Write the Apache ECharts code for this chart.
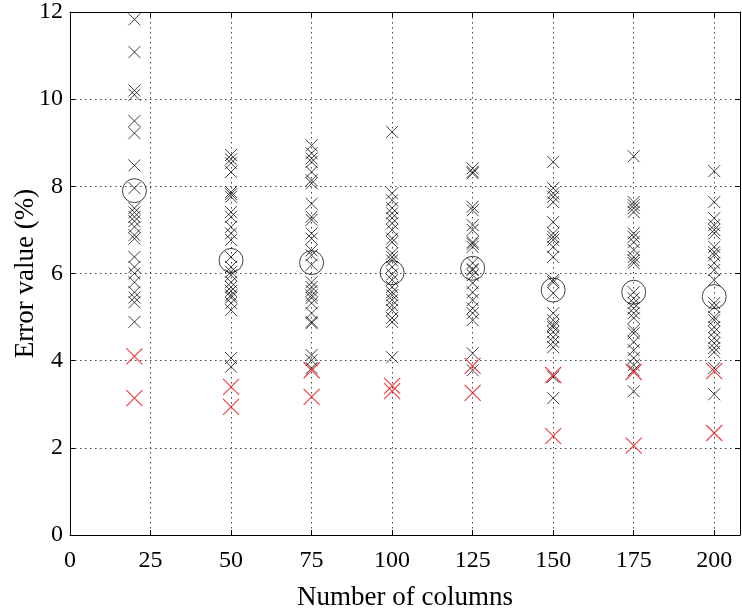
<!DOCTYPE html>
<html><head><meta charset="utf-8">
<script src="https://cdn.jsdelivr.net/npm/echarts@6/dist/echarts.min.js"></script>
<style>html,body{margin:0;padding:0;background:#fff}#c{width:742px;height:611px}</style>
</head><body><div id="c"></div>
<script>
const columns = [20, 50, 75, 100, 125, 150, 175, 200];
const xTicks = [0, 25, 50, 75, 100, 125, 150, 175, 200];
const yTicks = [0, 2, 4, 6, 8, 10, 12];
const black20 = [11.83, 11.08, 10.2, 10.1, 9.5, 9.22, 8.48, 7.96, 7.5, 7.4, 7.3, 7.2, 7.07, 6.88, 6.8, 6.38, 6.15, 6.0, 5.8, 5.57, 5.45, 5.34, 4.89];
const black50 = [8.72, 8.62, 8.53, 8.33, 7.87, 7.82, 7.76, 7.41, 7.3, 7.07, 6.92, 6.77, 6.38, 6.15, 6.04, 5.96, 5.8, 5.69, 5.6, 5.5, 5.45, 5.32, 5.16, 4.06, 3.86];
const black75 = [8.94, 8.76, 8.64, 8.56, 8.33, 8.14, 8.07, 7.6, 7.3, 7.23, 6.92, 6.8, 6.53, 6.42, 6.2, 5.8, 5.69, 5.6, 5.5, 5.44, 5.32, 5.09, 4.89, 4.86, 4.13, 4.01, 3.83];
const black100 = [9.25, 7.84, 7.68, 7.5, 7.38, 7.27, 7.15, 7.0, 6.8, 6.72, 6.46, 6.38, 6.3, 6.15, 5.98, 5.85, 5.69, 5.57, 5.5, 5.39, 5.27, 5.16, 4.98, 4.89, 4.08];
const black125 = [8.41, 8.33, 8.3, 7.53, 7.45, 7.11, 7.0, 6.72, 6.68, 6.61, 6.24, 6.1, 6.08, 5.96, 5.78, 5.57, 5.39, 5.2, 5.09, 4.93, 4.17, 3.78];
const black150 = [8.56, 7.96, 7.84, 7.76, 7.64, 7.18, 6.92, 6.84, 6.77, 6.61, 6.38, 5.85, 5.8, 5.55, 5.09, 4.93, 4.82, 4.77, 4.66, 4.54, 4.43, 4.31, 3.63, 3.14];
const black175 = [8.69, 7.64, 7.57, 7.5, 7.41, 6.92, 6.84, 6.72, 6.54, 6.38, 6.3, 6.24, 5.57, 5.43, 5.32, 5.2, 5.09, 4.98, 4.7, 4.63, 4.43, 4.24, 4.06, 3.9, 3.78, 3.3];
const black200 = [8.35, 7.64, 7.27, 7.11, 7.0, 6.92, 6.61, 6.49, 6.42, 6.24, 6.08, 5.85, 5.32, 5.23, 5.0, 4.93, 4.77, 4.66, 4.52, 4.4, 4.29, 4.2, 3.83, 3.23];
const red20 = [4.1, 3.14];
const red50 = [3.4, 2.94];
const red75 = [3.78, 3.17];
const red100 = [3.42, 3.3];
const red125 = [3.88, 3.26];
const red150 = [3.67, 2.27];
const red175 = [3.74, 2.05];
const red200 = [3.76, 2.34];
const means = [7.9, 6.3, 6.25, 6.02, 6.12, 5.62, 5.57, 5.47];

const blackCols = [black20, black50, black75, black100, black125, black150, black175, black200];
const redCols = [red20, red50, red75, red100, red125, red150, red175, red200];
const blackData = [], redData = [];
columns.forEach((c, i) => {
  blackCols[i].forEach(v => blackData.push([c, v]));
  redCols[i].forEach(v => redData.push([c, v]));
});
const meanData = columns.map((c, i) => [c, means[i]]);

const cross = 'path://M0,0L10,10M10,0L0,10';
const font = '"Liberation Serif", "DejaVu Serif", serif';
const grid = {left: 70, right: 2, top: 12, bottom: 76, containLabel: false, outerBoundsMode: 'none'};
const split = {show: true, lineStyle: {color: '#444', type: [1.5, 3.5], width: 1}};
const axLine = {show: true, onZero: false, lineStyle: {color: '#000', width: 1}};
const tick = {show: true, inside: true, length: 5, lineStyle: {color: '#000'}};

const chart = echarts.init(document.getElementById('c'), null, {renderer: 'canvas'});
chart.setOption({
  animation: false,
  backgroundColor: '#fff',
  grid: grid,
  xAxis: [{
    type: 'value', min: 0, max: 208, interval: 25, position: 'bottom',
    axisLine: axLine, axisTick: tick, splitLine: split,
    axisLabel: {show: true, showMaxLabel: false, color: '#000', fontFamily: font, fontSize: 24, margin: 14,
      formatter: v => xTicks.includes(v) ? String(v) : ''},
    name: 'Number of columns', nameLocation: 'middle', nameGap: 49, nameMoveOverlap: false,
    nameTextStyle: {color: '#000', fontFamily: font, fontSize: 27}
  }, {
    type: 'value', min: 0, max: 208, interval: 25, position: 'top',
    axisLine: axLine, axisTick: tick, splitLine: {show: false}, axisLabel: {show: false}
  }],
  yAxis: [{
    type: 'value', min: 0, max: 12, interval: 2, position: 'left',
    axisLine: axLine, axisTick: tick, splitLine: split,
    axisLabel: {color: '#000', fontFamily: font, fontSize: 24, margin: 7,
      formatter: v => yTicks.includes(v) ? String(v) : ''},
    name: 'Error value (%)', nameLocation: 'middle', nameGap: 31, nameRotate: 90, nameMoveOverlap: false,
    nameTextStyle: {color: '#000', fontFamily: font, fontSize: 27}
  }, {
    type: 'value', min: 0, max: 12, interval: 2, position: 'right',
    axisLine: axLine, axisTick: tick, splitLine: {show: false}, axisLabel: {show: false}
  }],
  series: [{
    type: 'scatter', data: blackData, symbol: cross, symbolSize: 12,
    itemStyle: {color: 'none', borderColor: '#111', borderWidth: 1}
  }, {
    type: 'scatter', data: redData, symbol: cross, symbolSize: 16,
    itemStyle: {color: 'none', borderColor: '#e8141a', borderWidth: 1.2}
  }, {
    type: 'scatter', data: meanData, symbol: 'circle', symbolSize: 24,
    itemStyle: {color: 'none', borderColor: '#111', borderWidth: 1}
  }]
});
</script></body></html>
